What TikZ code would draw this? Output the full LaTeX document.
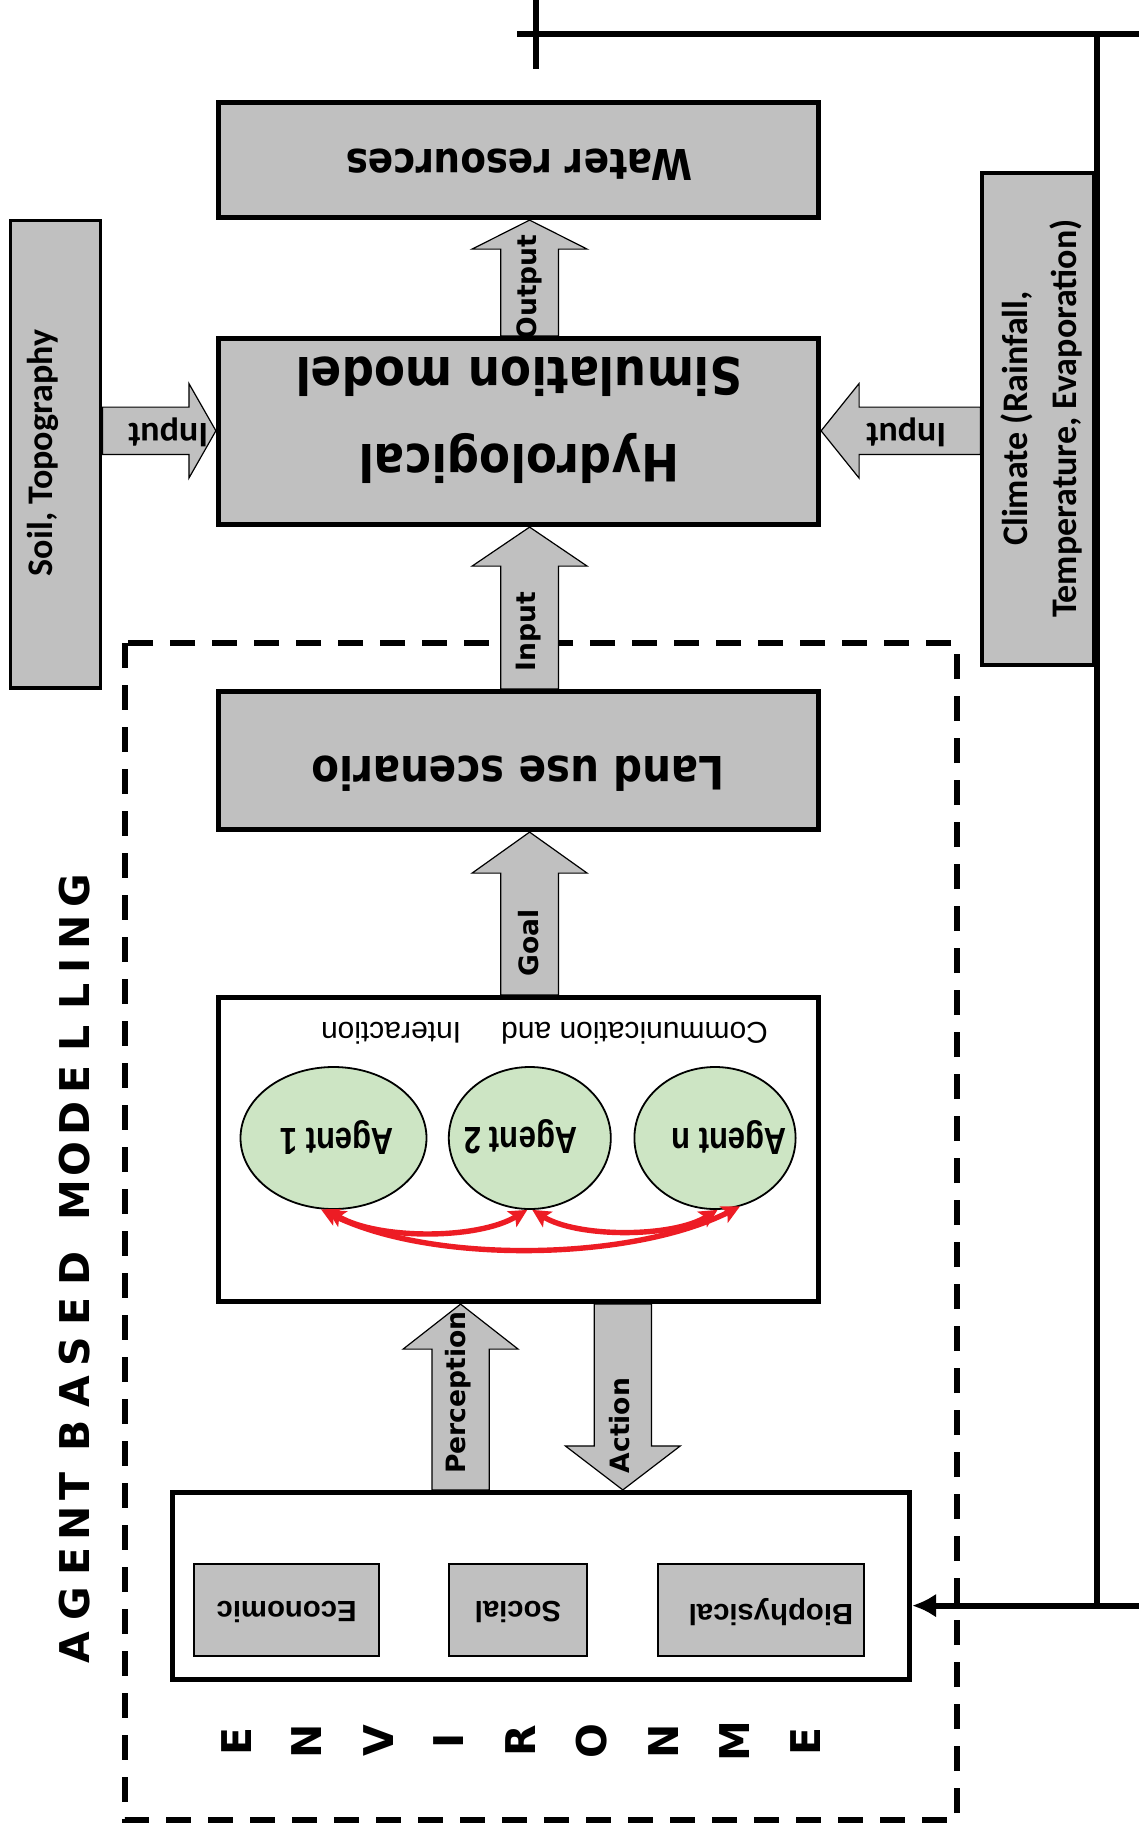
\documentclass[tikz,border=0pt]{standalone}
\usepackage{fontspec}
\usetikzlibrary{calc,arrows.meta,shapes.geometric}
\newfontfamily\djv{DejaVu Sans}
\newfontfamily\djvc{DejaVu Sans}[FakeStretch=0.88]
\newfontfamily\lib{Liberation Sans}
\newfontfamily\libn{Liberation Sans}[FakeStretch=0.82]
\newfontfamily\carl{Carlito}
\definecolor{boxgray}{RGB}{192,192,192}
\definecolor{agentgreen}{RGB}{205,229,196}
\definecolor{linkred}{RGB}{237,28,36}
\pgfdeclarelayer{bg}
\pgfsetlayers{bg,main}
% block arrow: #1 start, #2 tip, #3 half shaft, #4 half head, #5 head length
\newcommand\blockarrow[5]{%
  \coordinate (hb) at ($(#2)!#5!(#1)$);
  \filldraw[barrow] ($(#1)!#3!90:(#2)$) -- ($(hb)!#3!-90:(#1)$) -- ($(hb)!#4!-90:(#1)$) -- (#2)
    -- ($(hb)!#4!90:(#1)$) -- ($(hb)!#3!90:(#1)$) -- ($(#1)!#3!-90:(#2)$) -- cycle;}
\begin{document}
\begin{tikzpicture}[x=0.5pt,y=-0.5pt,
  mainbox/.style={draw=black,line width=2.6pt,fill=boxgray,inner sep=0pt,minimum width=300pt},
  sidebox/.style={draw=black,line width=1.8pt,fill=boxgray,inner sep=0pt},
  envitem/.style={draw=black,line width=0.9pt,fill=boxgray,inner sep=0pt,minimum height=46.1pt},
  agent/.style={ellipse,draw=black,line width=0.9pt,fill=agentgreen,inner sep=0pt,minimum height=71pt},
  barrow/.style={draw=black,line width=0.6pt,fill=boxgray,line join=miter},
  lbl/.style={inner sep=0pt,outer sep=0pt},
  arrtxt/.style={lbl,rotate=90,font=\djv\bfseries\fontsize{13.3}{16}\selectfont},
  carltxt/.style={lbl,font=\carl\bfseries\fontsize{18}{24.5}\selectfont},
  bigletter/.style={lbl,rotate=90,font=\djv\bfseries\fontsize{20.5}{24}\selectfont},
  envtxt/.style={lbl,rotate=180,font=\lib\bfseries\fontsize{14.65}{17}\selectfont},
  agenttxt/.style={lbl,rotate=180,font=\libn\bfseries\fontsize{18.9}{22}\selectfont},
  connector/.style={line width=3pt},
  dashedframe/.style={line width=2.9pt,dash pattern=on 12.5pt off 8.5pt},
  redlink/.style={draw=linkred,line width=2.7pt,arrows={Stealth[length=9pt,width=9pt,inset=2pt]-Stealth[length=9pt,width=9pt,inset=2pt]}},
]
\useasboundingbox (0,0) rectangle (1139,1832);

% boxes
\node[mainbox,minimum height=57.5pt] (water) at (518.5,160) {};
\node[mainbox,minimum height=93pt] (hydro) at (518.5,431.5) {};
\node[mainbox,minimum height=69pt] (land) at (518.5,760.5) {};
\node[mainbox,fill=white,minimum height=152pt] (agents) at (518.5,1149.5) {};
\node[mainbox,fill=white,minimum width=368.5pt,minimum height=93.5pt] (env) at (541,1586) {};
\node[sidebox,minimum width=45.1pt,minimum height=233.75pt] (soil) at (55.5,454.2) {};
\node[sidebox,minimum width=56pt,minimum height=246pt] (climate) at (1038.2,418.75) {};
\node[envitem,minimum width=92.6pt] (econ) at (286.5,1610) {};
\node[envitem,minimum width=69.1pt] (social) at (518,1610) {};
\node[envitem,minimum width=103.1pt] (bio) at (761,1610) {};
\node[agent,minimum width=93pt] (ag1) at (333.5,1138) {};
\node[agent,minimum width=81pt] (ag2) at (529.8,1138) {};
\node[agent,minimum width=80.6pt] (agn) at (715,1138) {};

% background: white page, dashed frame and block arrows
\begin{pgfonlayer}{bg}
\fill[white] (0,0) rectangle (1139,1832);
\draw[dashedframe] (125,643) rectangle (957,1820);
\coordinate (axA) at (529.6,0);
\coordinate (axP) at (460.6,0);
\coordinate (axC) at (622.8,0);
\coordinate (ayI) at (0,430.8);
\coordinate (out-s) at (hydro.north -| axA);
\coordinate (out-t) at (water.south -| axA);
\blockarrow{out-s}{out-t}{14.4pt}{28.75pt}{14.5pt}
\coordinate (inp-s) at (land.north -| axA);
\coordinate (inp-t) at (hydro.south -| axA);
\blockarrow{inp-s}{inp-t}{14.4pt}{28.75pt}{19.5pt}
\coordinate (goal-s) at (agents.north -| axA);
\coordinate (goal-t) at (land.south -| axA);
\blockarrow{goal-s}{goal-t}{14.4pt}{28.75pt}{20.5pt}
\coordinate (per-s) at (env.north -| axP);
\coordinate (per-t) at (agents.south -| axP);
\blockarrow{per-s}{per-t}{14.3pt}{28.75pt}{22.5pt}
\coordinate (act-s) at (agents.south -| axC);
\coordinate (act-t) at (env.north -| axC);
\blockarrow{act-s}{act-t}{14.3pt}{28.75pt}{22pt}
\coordinate (inl-s) at (soil.east |- ayI);
\coordinate (inl-t) at (hydro.west |- ayI);
\blockarrow{inl-s}{inl-t}{11.85pt}{23.65pt}{13.5pt}
\coordinate (inr-s) at (climate.west |- ayI);
\coordinate (inr-t) at (hydro.east |- ayI);
\blockarrow{inr-s}{inr-t}{11.85pt}{23.65pt}{19pt}
\end{pgfonlayer}

% feedback connector
\coordinate (tl0) at (517,33.5);
\coordinate (tl1) at (1139,33.5);
\coordinate (tk0) at (536,0);
\coordinate (tk1) at (536,69);
\coordinate (vr0) at (1096.6,33.5);
\coordinate (vr1) at (1096.6,1605.6);
\coordinate (feed) at (1139,1605.6);
\draw[connector] (tl0) -- (tl1);
\draw[connector] (tk0) -- (tk1);
\draw[connector] (vr0) -- (vr1);
\draw[connector,-{Latex[length=12pt,width=12pt]}] (feed) -- (env.east |- feed);

% red interaction links
\draw[redlink] (ag1.-95) .. controls +(50,30) and +(-50,30) .. (ag2.-92);
\draw[redlink] (ag2.-88) .. controls +(45,28) and +(-45,28) .. (agn.-88);
\draw[redlink] (ag1.-100) .. controls +(110,55) and +(-110,55) .. (agn.-70);

% texts
\node[lbl,rotate=180,font=\djvc\bfseries\fontsize{21.25}{25}\selectfont] (twater) at (519,165) {Water resources};
\node[lbl,rotate=180,align=center,font=\djvc\bfseries\fontsize{25.7}{43.5}\selectfont] (thydro) at (519,420.5) {Hydrological\\Simulation model};
\node[lbl,rotate=180,font=\djvc\bfseries\fontsize{23}{27}\selectfont] (tland) at (518,774) {Land use scenario};
\node[lbl,rotate=180,font=\lib\fontsize{15}{18}\selectfont] (tcomm) at (544.5,1033) {Communication and\hspace{20pt}Interaction};
\node[agenttxt] (tag1) at (337,1137) {Agent 1};
\node[agenttxt] (tag2) at (520.6,1137) {Agent 2};
\node[agenttxt] (tagn) at (729,1137) {Agent n};
\node[envtxt] (tecon) at (286.7,1612) {Economic};
\node[envtxt] (tsocial) at (518,1612) {Social};
\node[envtxt] (tbio) at (771,1612) {Biophysical};
\node[carltxt,rotate=90] (tsoil) at (42.5,453) {Soil, Topography};
\node[carltxt,rotate=90,align=center] (tclim) at (1041,418.5) {Climate (Rainfall,\\Temperature, Evaporation)};
\node[carltxt,rotate=180] (tinl) at (168,432) {Input};
\node[carltxt,rotate=180] (tinr) at (906,432) {Input};
\node[arrtxt] (tout) at (529,287) {Output};
\node[arrtxt] (tinp) at (529,632) {Input};
\node[arrtxt] (tgoal) at (529,943) {Goal};
\node[arrtxt] (tper) at (458,1392.5) {Perception};
\node[arrtxt] (tact) at (620,1425.5) {Action};

\foreach \ch/\yy [count=\i] in {A/1647.5,G/1604,E/1561.5,N/1523.5,T/1486,B/1436,A/1392,S/1351.7,E/1311.5,D/1268,M/1200.5,O/1159,D/1118.3,E/1079,L/1038,L/996.7,I/965.5,N/932.5,G/890.5}
  \node[bigletter] (abm\i) at (74.5,\yy) {\ch};
\foreach \ch/\xx [count=\i] in {E/236.5,N/307,V/378.4,I/449,R/520.7,O/592,N/663.5,M/735,E/805.8}
  \node[bigletter] (envl\i) at (\xx,1741) {\ch};
\end{tikzpicture}
\end{document}
